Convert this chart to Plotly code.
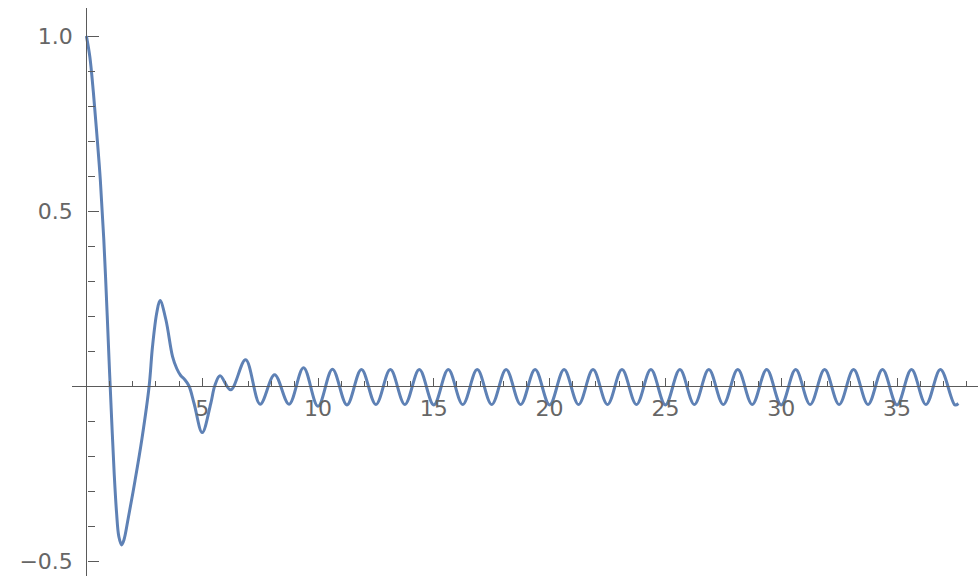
import plotly.graph_objects as go

# ---- data ----
x_vals = [0.0, 0.15, 0.3, 0.45, 0.6, 0.75, 0.9, 1.0, 1.1, 1.2, 1.3, 1.4, 1.52, 1.62, 1.8,
          2.1, 2.4, 2.71, 2.85, 3.04, 3.18, 3.43, 3.72, 3.9, 4.07, 4.25, 4.43, 4.65, 5.0,
          5.37, 5.54, 5.77, 6.23, 6.875,
          7.5, 8.125, 8.75, 9.375, 10.0, 10.625, 11.25, 11.875, 12.5, 13.125, 13.75, 14.375,
          15.0, 15.625, 16.25, 16.875, 17.5, 18.125, 18.75, 19.375, 20.0, 20.625, 21.25,
          21.875, 22.5, 23.125, 23.75, 24.375, 25.0, 25.625, 26.25, 26.875, 27.5, 28.125,
          28.75, 29.375, 30.0, 30.625, 31.25, 31.875, 32.5, 33.125, 33.75, 34.375, 35.0,
          35.625, 36.25, 36.875, 37.5, 37.65]
y_vals = [1.0, 0.94, 0.84, 0.72, 0.59, 0.42, 0.2, 0.04, -0.11, -0.25, -0.36, -0.43, -0.454,
          -0.44, -0.38, -0.27, -0.15, 0.0, 0.11, 0.21, 0.244, 0.19, 0.084, 0.05, 0.03, 0.018,
          0.0, -0.05, -0.133, -0.05, 0.0, 0.029, -0.011, 0.075,
          -0.052, 0.032, -0.052, 0.052, -0.058, 0.048, -0.054, 0.047, -0.053, 0.047, -0.053,
          0.047, -0.054, 0.047, -0.053, 0.047, -0.053, 0.047, -0.053, 0.047, -0.054, 0.047,
          -0.053, 0.047, -0.053, 0.047, -0.053, 0.047, -0.054, 0.047, -0.053, 0.047, -0.053,
          0.047, -0.053, 0.047, -0.054, 0.047, -0.053, 0.047, -0.053, 0.047, -0.053, 0.047,
          -0.054, 0.047, -0.053, 0.047, -0.054, -0.05]

x_ticks = [5, 10, 15, 20, 25, 30, 35]
x_tick_text = ["5", "10", "15", "20", "25", "30", "35"]
y_ticks = [-0.5, 0.5, 1.0]
y_tick_text = ["\u22120.5", "0.5", "1.0"]

W, H = 978, 576
AXIS = "#5a5a5a"
TXT = "#666666"

fig = go.Figure()
fig.add_trace(go.Scatter(
    x=x_vals, y=y_vals, mode="lines",
    line=dict(color="#5E81B5", width=3, shape="spline", smoothing=1.0),
    hoverinfo="skip", showlegend=False,
))

# pixel geometry of the reference
x0_px, px_per_x = 86.4, 23.16
y0_px, px_per_y = 386.0, 350.0
left_px, top_px = 72.0, 8.0

x_min = -(x0_px - left_px) / px_per_x
x_max = x_min + (W - left_px) / px_per_x
y_max = (y0_px - top_px) / px_per_y
y_min = (y0_px - H) / px_per_y

fig.update_layout(
    width=W, height=H,
    margin=dict(l=0, r=0, t=int(top_px), b=0),
    paper_bgcolor="white", plot_bgcolor="white",
    font=dict(family="DejaVu Sans, sans-serif", size=22, color=TXT),
    xaxis=dict(
        domain=[left_px / W, 1.0],
        range=[x_min, x_max],
        anchor="free", position=(H - y0_px) / (H - top_px),
        showgrid=False, zeroline=False,
        showline=True, linecolor=AXIS, linewidth=1.3,
        tickmode="array", tickvals=x_ticks, ticktext=x_tick_text,
        ticks="inside", ticklen=8, tickwidth=1.3, tickcolor=AXIS,
        minor=dict(tickmode="linear", tick0=0, dtick=1, ticks="inside",
                   ticklen=5, tickwidth=1.1, tickcolor=AXIS, showgrid=False),
        tickfont=dict(size=22, color=TXT),
        ticklabelstandoff=2,
        automargin=False,
    ),
    yaxis=dict(
        domain=[0.0, 1.0],
        range=[y_min, y_max],
        anchor="free", position=x0_px / W,
        showgrid=False, zeroline=False,
        showline=True, linecolor=AXIS, linewidth=1.3,
        tickmode="array", tickvals=y_ticks, ticktext=y_tick_text,
        ticks="inside", ticklen=11, tickwidth=1.3, tickcolor=AXIS,
        minor=dict(tickmode="linear", tick0=0, dtick=0.1, ticks="inside",
                   ticklen=7, tickwidth=1.1, tickcolor=AXIS, showgrid=False),
        tickfont=dict(size=22, color=TXT),
        ticklabelstandoff=9,
        automargin=False,
    ),
)

fig.write_html("out.html")
